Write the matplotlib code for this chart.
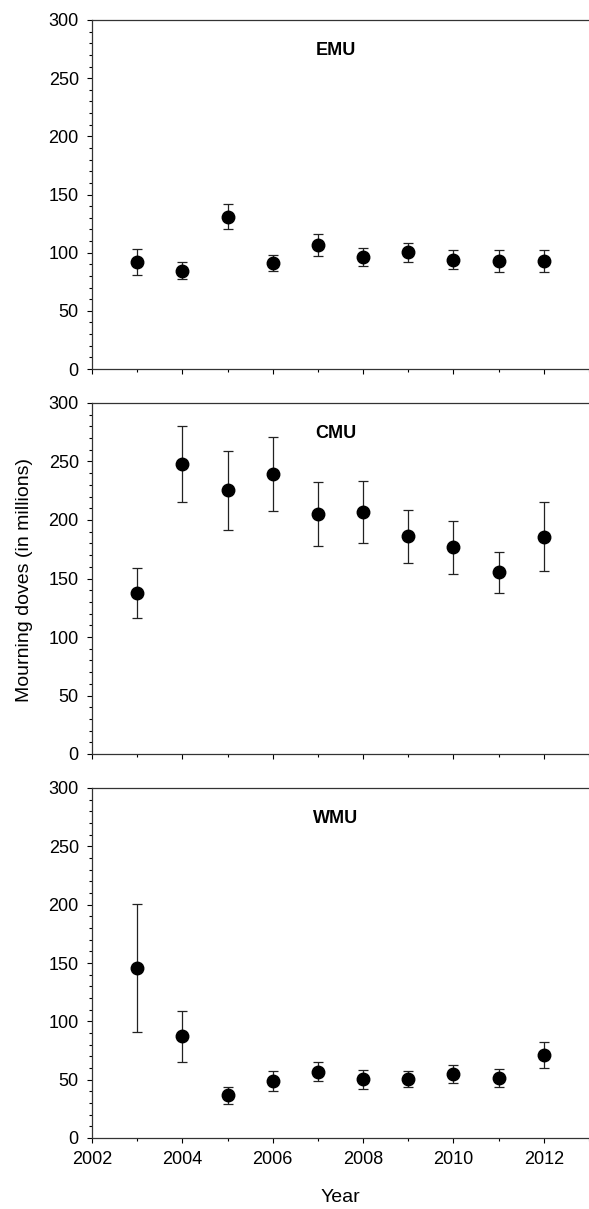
"""Mourning dove abundance by management unit, 2003-2012 (three stacked panels)."""

import matplotlib
matplotlib.use("Agg")
import matplotlib.pyplot as plt
from matplotlib.ticker import MultipleLocator

plt.rcParams["font.family"] = ["Liberation Sans", "DejaVu Sans"]

YEARS = [2003, 2004, 2005, 2006, 2007, 2008, 2009, 2010, 2011, 2012]

# point estimate, upper and lower bounds (millions)
EMU = [92.4, 84.6, 130.7, 90.9, 106.7, 96.4, 100.4, 94.1, 92.9, 92.6]
EMU_HI = [103.5, 91.8, 142.1, 98.4, 116.1, 103.8, 108.7, 102.4, 102.1, 102.1]
EMU_LO = [80.9, 77.2, 120.1, 84.1, 97.2, 88.6, 92.4, 85.8, 83.5, 83.2]

CMU = [137.8, 247.5, 225.5, 239.5, 205.0, 206.7, 186.1, 176.7, 155.3, 185.8]
CMU_HI = [159.3, 280.0, 258.9, 271.2, 232.1, 233.2, 208.7, 199.3, 172.4, 215.8]
CMU_LO = [116.4, 215.2, 191.8, 207.5, 177.6, 180.1, 163.0, 153.9, 137.9, 156.2]

WMU = [145.7, 87.1, 36.6, 49.1, 56.9, 50.3, 50.3, 55.1, 51.4, 70.9]
WMU_HI = [200.6, 109.1, 43.7, 57.7, 65.1, 58.3, 57.1, 62.6, 58.9, 82.0]
WMU_LO = [90.6, 65.4, 29.4, 40.3, 48.6, 42.3, 44.0, 47.4, 44.0, 60.0]

PANELS = [
    ("EMU", EMU, EMU_LO, EMU_HI),
    ("CMU", CMU, CMU_LO, CMU_HI),
    ("WMU", WMU, WMU_LO, WMU_HI),
]

W, H = 589, 1209
# (top, bottom) of each panel in pixels
PANEL_PX = [(20, 369), (403, 754), (788, 1138)]
LEFT_PX = 92

fig = plt.figure(figsize=(W / 100, H / 100), dpi=100)

for i, ((name, est, lo, hi), (top, bot)) in enumerate(zip(PANELS, PANEL_PX)):
    ax = fig.add_axes([LEFT_PX / W, 1 - bot / H, 1 - LEFT_PX / W, (bot - top) / H])
    yerr = [[e - l for e, l in zip(est, lo)], [h - e for e, h in zip(est, hi)]]
    ax.errorbar(
        YEARS, est, yerr=yerr, fmt="o", color="black", ecolor="#222222",
        markersize=9, elinewidth=0.9, capsize=3.5, capthick=0.9,
    )
    ax.set_xlim(2002, 2013)
    ax.set_ylim(0, 300)
    ax.yaxis.set_major_locator(MultipleLocator(50))
    ax.yaxis.set_minor_locator(MultipleLocator(10))
    ax.xaxis.set_major_locator(MultipleLocator(2))
    ax.xaxis.set_minor_locator(MultipleLocator(1))
    ax.tick_params(which="major", direction="out", length=3.5, width=0.8,
                   labelsize=13, pad=6)
    ax.tick_params(which="minor", direction="out", length=2.5, width=0.8)
    ax.spines["right"].set_visible(False)
    for s in ("left", "bottom", "top"):
        ax.spines[s].set_linewidth(0.9)
        ax.spines[s].set_color("#333333")
    if i < 2:
        ax.tick_params(axis="x", which="both", labelbottom=False)
    ax.text(0.49, 0.912, name, transform=ax.transAxes, ha="center", va="center",
            fontsize=13, fontweight="bold")

fig.text((LEFT_PX + W) / 2 / W, 1 - 1198 / H, "Year", ha="center", va="center",
         fontsize=14)
fig.text(25 / W, 1 - 580 / H, "Mourning doves (in millions)", rotation=90,
         ha="center", va="center", fontsize=14)

fig.savefig("out.png", dpi=100)
